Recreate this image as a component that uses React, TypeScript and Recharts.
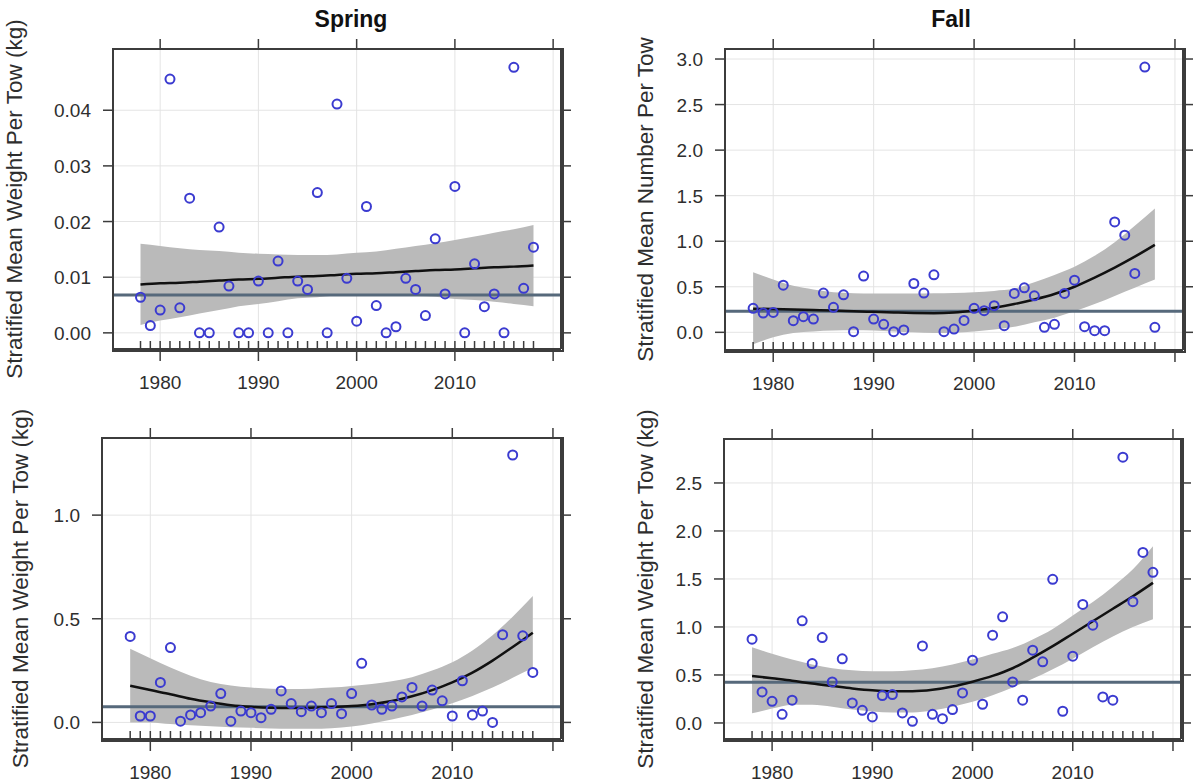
import {
  Area,
  CartesianGrid,
  ComposedChart,
  Label,
  Line,
  ReferenceLine,
  Scatter,
  XAxis,
  YAxis,
} from "recharts";

const font = '"Liberation Sans", Arial, sans-serif';
const ink = "#2e2e2e";
const frame = "#3c3c3c";
const pointColor = "#3b3bd0";
const bandColor = "#bababa";
const meanColor = "#56697b";

// one survey value per year
const years = [
  1978, 1979, 1980, 1981, 1982, 1983, 1984, 1985, 1986, 1987, 1988, 1989, 1990, 1991,
  1992, 1993, 1994, 1995, 1996, 1997, 1998, 1999, 2000, 2001, 2002, 2003, 2004, 2005,
  2006, 2007, 2008, 2009, 2010, 2011, 2012, 2013, 2014, 2015, 2016, 2017, 2018,
];
// years where the smoother and its confidence band are given
const smoothYears = [
  1978, 1980, 1982, 1984, 1986, 1988, 1990, 1992, 1994, 1996, 1998, 2000, 2002, 2004,
  2006, 2008, 2010, 2012, 2014, 2016, 2018,
];
const decadeTicks = [1980, 1990, 2000, 2010, 2020];
const yearLabels = [1980, 1990, 2000, 2010];
const xDomain: [number, number] = [1975.2, 2020.8];

// spring, weight per tow (upper panel)
const springWeightA = [
  0.0064, 0.0013, 0.0041, 0.0456, 0.0045, 0.0242, 0, 0, 0.019, 0.0084, 0, 0, 0.0093, 0,
  0.0129, 0, 0.0093, 0.0078, 0.0252, 0, 0.0411, 0.0098, 0.0021, 0.0227, 0.0049, 0, 0.0011,
  0.0098, 0.0078, 0.0031, 0.0169, 0.007, 0.0263, 0, 0.0124, 0.0047, 0.007, 0, 0.0477, 0.008,
  0.0154,
];
const springFitA = [
  0.0087, 0.0089, 0.009, 0.0092, 0.0094, 0.0096, 0.0097, 0.0099, 0.0101, 0.0102, 0.0104,
  0.0106, 0.0107, 0.0109, 0.0111, 0.0113, 0.0114, 0.0116, 0.0118, 0.0119, 0.0121,
];
const springLowA = [
  0.0014, 0.0022, 0.0028, 0.0035, 0.0041, 0.0048, 0.0052, 0.0057, 0.0062, 0.0064, 0.0067,
  0.0068, 0.0068, 0.0067, 0.0066, 0.0065, 0.0061, 0.0059, 0.0056, 0.0052, 0.0048,
];
const springHighA = [
  0.016, 0.0156, 0.0152, 0.0149, 0.0147, 0.0144, 0.0142, 0.0141, 0.014, 0.014, 0.0141,
  0.0144, 0.0146, 0.0151, 0.0156, 0.0161, 0.0167, 0.0173, 0.018, 0.0186, 0.0194,
];

// fall, number per tow
const fallNumber = [
  0.263, 0.212, 0.219, 0.518, 0.128, 0.172, 0.146, 0.431, 0.274, 0.412, 0.007, 0.617, 0.146,
  0.088, 0.007, 0.026, 0.536, 0.431, 0.631, 0.007, 0.036, 0.131, 0.263, 0.237, 0.292, 0.073,
  0.427, 0.489, 0.401, 0.055, 0.088, 0.427, 0.573, 0.062, 0.018, 0.018, 1.212, 1.066, 0.646,
  2.912, 0.055,
];
const fallNumberFit = [
  0.26, 0.255, 0.25, 0.245, 0.24, 0.232, 0.225, 0.218, 0.212, 0.21, 0.218, 0.24, 0.27, 0.31,
  0.36, 0.42, 0.5, 0.6, 0.71, 0.83, 0.96,
];
const fallNumberLow = [
  -0.13, -0.055, -0.007, 0.01, 0.02, 0.022, 0.02, 0.01, 0.0, -0.007, -0.005, 0.01, 0.03,
  0.06, 0.11, 0.16, 0.23, 0.31, 0.4, 0.49, 0.58,
];
const fallNumberHigh = [
  0.66, 0.58, 0.51, 0.47, 0.44, 0.43, 0.427, 0.425, 0.425, 0.428, 0.432, 0.44, 0.455, 0.48,
  0.55, 0.63, 0.72, 0.84, 0.99, 1.17, 1.36,
];

// spring, weight per tow (lower panel)
const springWeightB = [
  0.415, 0.031, 0.031, 0.193, 0.361, 0.006, 0.036, 0.047, 0.079, 0.139, 0.006, 0.055, 0.047,
  0.023, 0.063, 0.152, 0.091, 0.052, 0.079, 0.047, 0.091, 0.042, 0.139, 0.285, 0.084, 0.063,
  0.079, 0.123, 0.169, 0.079, 0.156, 0.104, 0.031, 0.201, 0.036, 0.055, 0.0, 0.423, 1.29,
  0.418, 0.241,
];
const springFitB = [
  0.177, 0.156, 0.136, 0.114, 0.097, 0.083, 0.075, 0.071, 0.07, 0.071, 0.074, 0.079, 0.088,
  0.103, 0.126, 0.156, 0.193, 0.24, 0.298, 0.364, 0.433,
];
const springLowB = [
  0.0, 0.0, -0.008, -0.014, -0.018, -0.023, -0.026, -0.029, -0.031, -0.031, -0.028, -0.02,
  -0.005, 0.014, 0.036, 0.062, 0.092, 0.128, 0.168, 0.215, 0.262,
];
const springHighB = [
  0.355, 0.31, 0.265, 0.225, 0.195, 0.178, 0.168, 0.163, 0.161, 0.163, 0.168, 0.176, 0.185,
  0.198, 0.218, 0.25, 0.29, 0.347, 0.42, 0.51, 0.61,
];

// fall, weight per tow
const fallWeight = [
  0.873, 0.323, 0.226, 0.09, 0.237, 1.064, 0.619, 0.89, 0.428, 0.668, 0.209, 0.132, 0.063,
  0.285, 0.296, 0.104, 0.017, 0.803, 0.09, 0.045, 0.139, 0.313, 0.654, 0.195, 0.915, 1.106,
  0.428, 0.237, 0.758, 0.637, 1.496, 0.122, 0.696, 1.235, 1.019, 0.271, 0.237, 2.769, 1.263,
  1.777, 1.569,
];
const fallWeightFit = [
  0.49, 0.465, 0.44, 0.41, 0.385, 0.36, 0.34, 0.33, 0.33, 0.345, 0.38, 0.43, 0.49, 0.57, 0.68,
  0.8, 0.93, 1.06, 1.19, 1.32, 1.46,
];
const fallWeightLow = [
  0.1, 0.15, 0.19, 0.19, 0.17, 0.14, 0.12, 0.11, 0.11, 0.13, 0.17, 0.22, 0.29, 0.37, 0.46,
  0.56, 0.67, 0.79, 0.9, 1.0, 1.08,
];
const fallWeightHigh = [
  0.79, 0.72, 0.66, 0.61, 0.57, 0.55, 0.54, 0.54, 0.55, 0.57, 0.61, 0.66, 0.72, 0.78, 0.87,
  0.98, 1.12, 1.26, 1.42, 1.6, 1.84,
];

const weightTitle = "Stratified Mean Weight Per Tow (kg)";
const numberTitle = "Stratified Mean Number Per Tow";

type PanelSpec = {
  values: number[];
  fit: number[];
  low: number[];
  high: number[];
  mean: number;
  yDomain: [number, number];
  yTicks: number[];
  digits: number;
  yTitle: string;
  left: number;
  top: number;
  width: number;
  height: number;
  axisWidth: number;
  titleX: number;
  margin: { top: number; right: number; bottom: number; left: number };
};

const panels: PanelSpec[] = [
  {
    values: springWeightA, fit: springFitA, low: springLowA, high: springHighA, mean: 0.0068,
    yDomain: [-0.0029, 0.051], yTicks: [0, 0.01, 0.02, 0.03, 0.04], digits: 2, yTitle: weightTitle,
    left: 0, top: 0, width: 597, height: 400, axisWidth: 105, titleX: 22,
    margin: { top: 37, right: 26, bottom: 6, left: 8 },
  },
  {
    values: fallNumber, fit: fallNumberFit, low: fallNumberLow, high: fallNumberHigh, mean: 0.23,
    yDomain: [-0.194, 3.11], yTicks: [0, 0.5, 1, 1.5, 2, 2.5, 3], digits: 1, yTitle: numberTitle,
    left: 597, top: 0, width: 597, height: 400, axisWidth: 105, titleX: 56,
    margin: { top: 37, right: 1, bottom: 5, left: 23 },
  },
  {
    values: springWeightB, fit: springFitB, low: springLowB, high: springHighB, mean: 0.076,
    yDomain: [-0.08, 1.372], yTicks: [0, 0.5, 1], digits: 1, yTitle: weightTitle,
    left: 0, top: 400, width: 597, height: 384, axisWidth: 94, titleX: 28,
    margin: { top: 26, right: 26, bottom: 0, left: 8 },
  },
  {
    values: fallWeight, fit: fallWeightFit, low: fallWeightLow, high: fallWeightHigh, mean: 0.424,
    yDomain: [-0.167, 2.958], yTicks: [0, 0.5, 1, 1.5, 2, 2.5], digits: 1, yTitle: weightTitle,
    left: 597, top: 400, width: 597, height: 384, axisWidth: 105, titleX: 56,
    margin: { top: 27, right: 3, bottom: 0, left: 22 },
  },
];

const TOP_AXIS = 12;
const BOTTOM_AXIS = 45;
const RIGHT_AXIS = 10;
const TICK = 10;
const LW = 1.5;
const FRAME_W = 2;
const axisLine = { stroke: frame, strokeWidth: FRAME_W };

// bottom axis: rug mark for every survey year inside the frame,
// long ticks and labels on the decades below it
function YearTick(props: any) {
  const { x, y, payload } = props;
  const yr = payload.value as number;
  return (
    <g>
      {years.includes(yr) && (
        <line x1={x} x2={x} y1={y} y2={y - 8} stroke={frame} strokeWidth={LW} />
      )}
      {decadeTicks.includes(yr) && (
        <line x1={x} x2={x} y1={y} y2={y + 12} stroke={frame} strokeWidth={LW} />
      )}
      {yearLabels.includes(yr) && (
        <text x={x} y={y + 40} textAnchor="middle" fontSize={19} fill={ink} fontFamily={font}>
          {yr}
        </text>
      )}
    </g>
  );
}

function TopTick({ x, y }: any) {
  return <line x1={x} x2={x} y1={y} y2={y - TICK} stroke={frame} strokeWidth={LW} />;
}

function RightTick({ x, y }: any) {
  return <line x1={x} x2={x + TICK} y1={y} y2={y} stroke={frame} strokeWidth={LW} />;
}

function LeftTick({ x, y, payload, digits }: any) {
  return (
    <g>
      <line x1={x - TICK} x2={x} y1={y} y2={y} stroke={frame} strokeWidth={LW} />
      <text x={x - 22} y={y + 7} textAnchor="end" fontSize={19} fill={ink} fontFamily={font}>
        {(payload.value as number).toFixed(digits)}
      </text>
    </g>
  );
}

function Ring(props: any) {
  return (
    <circle cx={props.cx} cy={props.cy} r={4.5} fill="none" stroke={pointColor} strokeWidth={2} />
  );
}

function TrendPanel({ p }: { p: PanelSpec }) {
  const points = years.map((year, i) => ({ year, value: p.values[i] }));
  const smooth = smoothYears.map((year, i) => ({
    year,
    fit: p.fit[i],
    band: [p.low[i], p.high[i]],
  }));
  const boxLeft = p.margin.left + p.axisWidth;
  const boxRight = p.width - p.margin.right - RIGHT_AXIS;
  const boxTop = p.margin.top + TOP_AXIS;
  const boxBottom = p.height - p.margin.bottom - BOTTOM_AXIS;
  const midY = (boxTop + boxBottom) / 2;

  return (
    <div style={{ position: "absolute", left: p.left, top: p.top, width: p.width, height: p.height }}>
      <ComposedChart width={p.width} height={p.height} data={smooth} margin={p.margin}>
        <CartesianGrid xAxisId="t" yAxisId="l" stroke="#e4e4e4" strokeWidth={1} />
        <XAxis
          xAxisId="b"
          dataKey="year"
          type="number"
          domain={xDomain}
          allowDataOverflow
          ticks={[...years, 2020]}
          interval={0}
          tickSize={0}
          tickMargin={0}
          tickLine={false}
          tick={(tp: any) => <YearTick {...tp} />}
          height={BOTTOM_AXIS}
          axisLine={axisLine}
        />
        <XAxis
          xAxisId="t"
          orientation="top"
          dataKey="year"
          type="number"
          domain={xDomain}
          allowDataOverflow
          ticks={decadeTicks}
          interval={0}
          tickSize={0}
          tickMargin={0}
          tickLine={false}
          tick={(tp: any) => <TopTick {...tp} />}
          height={TOP_AXIS}
          axisLine={axisLine}
        />
        <YAxis
          yAxisId="l"
          type="number"
          domain={p.yDomain}
          allowDataOverflow
          ticks={p.yTicks}
          interval={0}
          tickSize={0}
          tickMargin={0}
          tickLine={false}
          tick={(tp: any) => <LeftTick {...tp} digits={p.digits} />}
          axisLine={axisLine}
          width={p.axisWidth}
        >
          <Label
            content={() => (
              <text
                x={p.titleX}
                y={midY}
                transform={`rotate(-90 ${p.titleX} ${midY})`}
                textAnchor="middle"
                fontSize={22.5}
                fill={ink}
                fontFamily={font}
              >
                {p.yTitle}
              </text>
            )}
          />
        </YAxis>
        <YAxis
          yAxisId="r"
          orientation="right"
          type="number"
          domain={p.yDomain}
          allowDataOverflow
          ticks={p.yTicks}
          interval={0}
          tickSize={0}
          tickMargin={0}
          tickLine={false}
          tick={(tp: any) => <RightTick {...tp} />}
          axisLine={axisLine}
          width={RIGHT_AXIS}
        />
        <Area
          xAxisId="t"
          yAxisId="r"
          dataKey="band"
          type="monotone"
          stroke="none"
          fill={bandColor}
          fillOpacity={1}
          activeDot={false}
          isAnimationActive={false}
        />
        <ReferenceLine xAxisId="b" yAxisId="l" y={p.mean} stroke={meanColor} strokeWidth={3} />
        <Line
          xAxisId="b"
          yAxisId="l"
          dataKey="fit"
          type="monotone"
          stroke="#111111"
          strokeWidth={2.5}
          dot={false}
          activeDot={false}
          isAnimationActive={false}
        />
        <Scatter
          xAxisId="b"
          yAxisId="l"
          data={points}
          dataKey="value"
          shape={Ring}
          isAnimationActive={false}
        />
      </ComposedChart>
      {/* panel frame laid over the plot area */}
      <div
        style={{
          position: "absolute",
          left: boxLeft - 1,
          top: boxTop - 1,
          width: boxRight - boxLeft,
          height: boxBottom - boxTop,
          border: `${FRAME_W}px solid ${frame}`,
          pointerEvents: "none",
        }}
      />
    </div>
  );
}

export default function App() {
  return (
    <div
      style={{
        position: "absolute",
        left: 0,
        top: 0,
        width: 1194,
        height: 784,
        background: "#ffffff",
        fontFamily: font,
        overflow: "hidden",
      }}
    >
      {panels.map((p, i) => (
        <TrendPanel key={i} p={p} />
      ))}
      <svg width={1194} height={40} style={{ position: "absolute", left: 0, top: 0 }}>
        <text x={351} y={27} textAnchor="middle" fontSize={23} fontWeight="bold" fill="#111" fontFamily={font}>
          Spring
        </text>
        <text x={951} y={27} textAnchor="middle" fontSize={23} fontWeight="bold" fill="#111" fontFamily={font}>
          Fall
        </text>
      </svg>
    </div>
  );
}
